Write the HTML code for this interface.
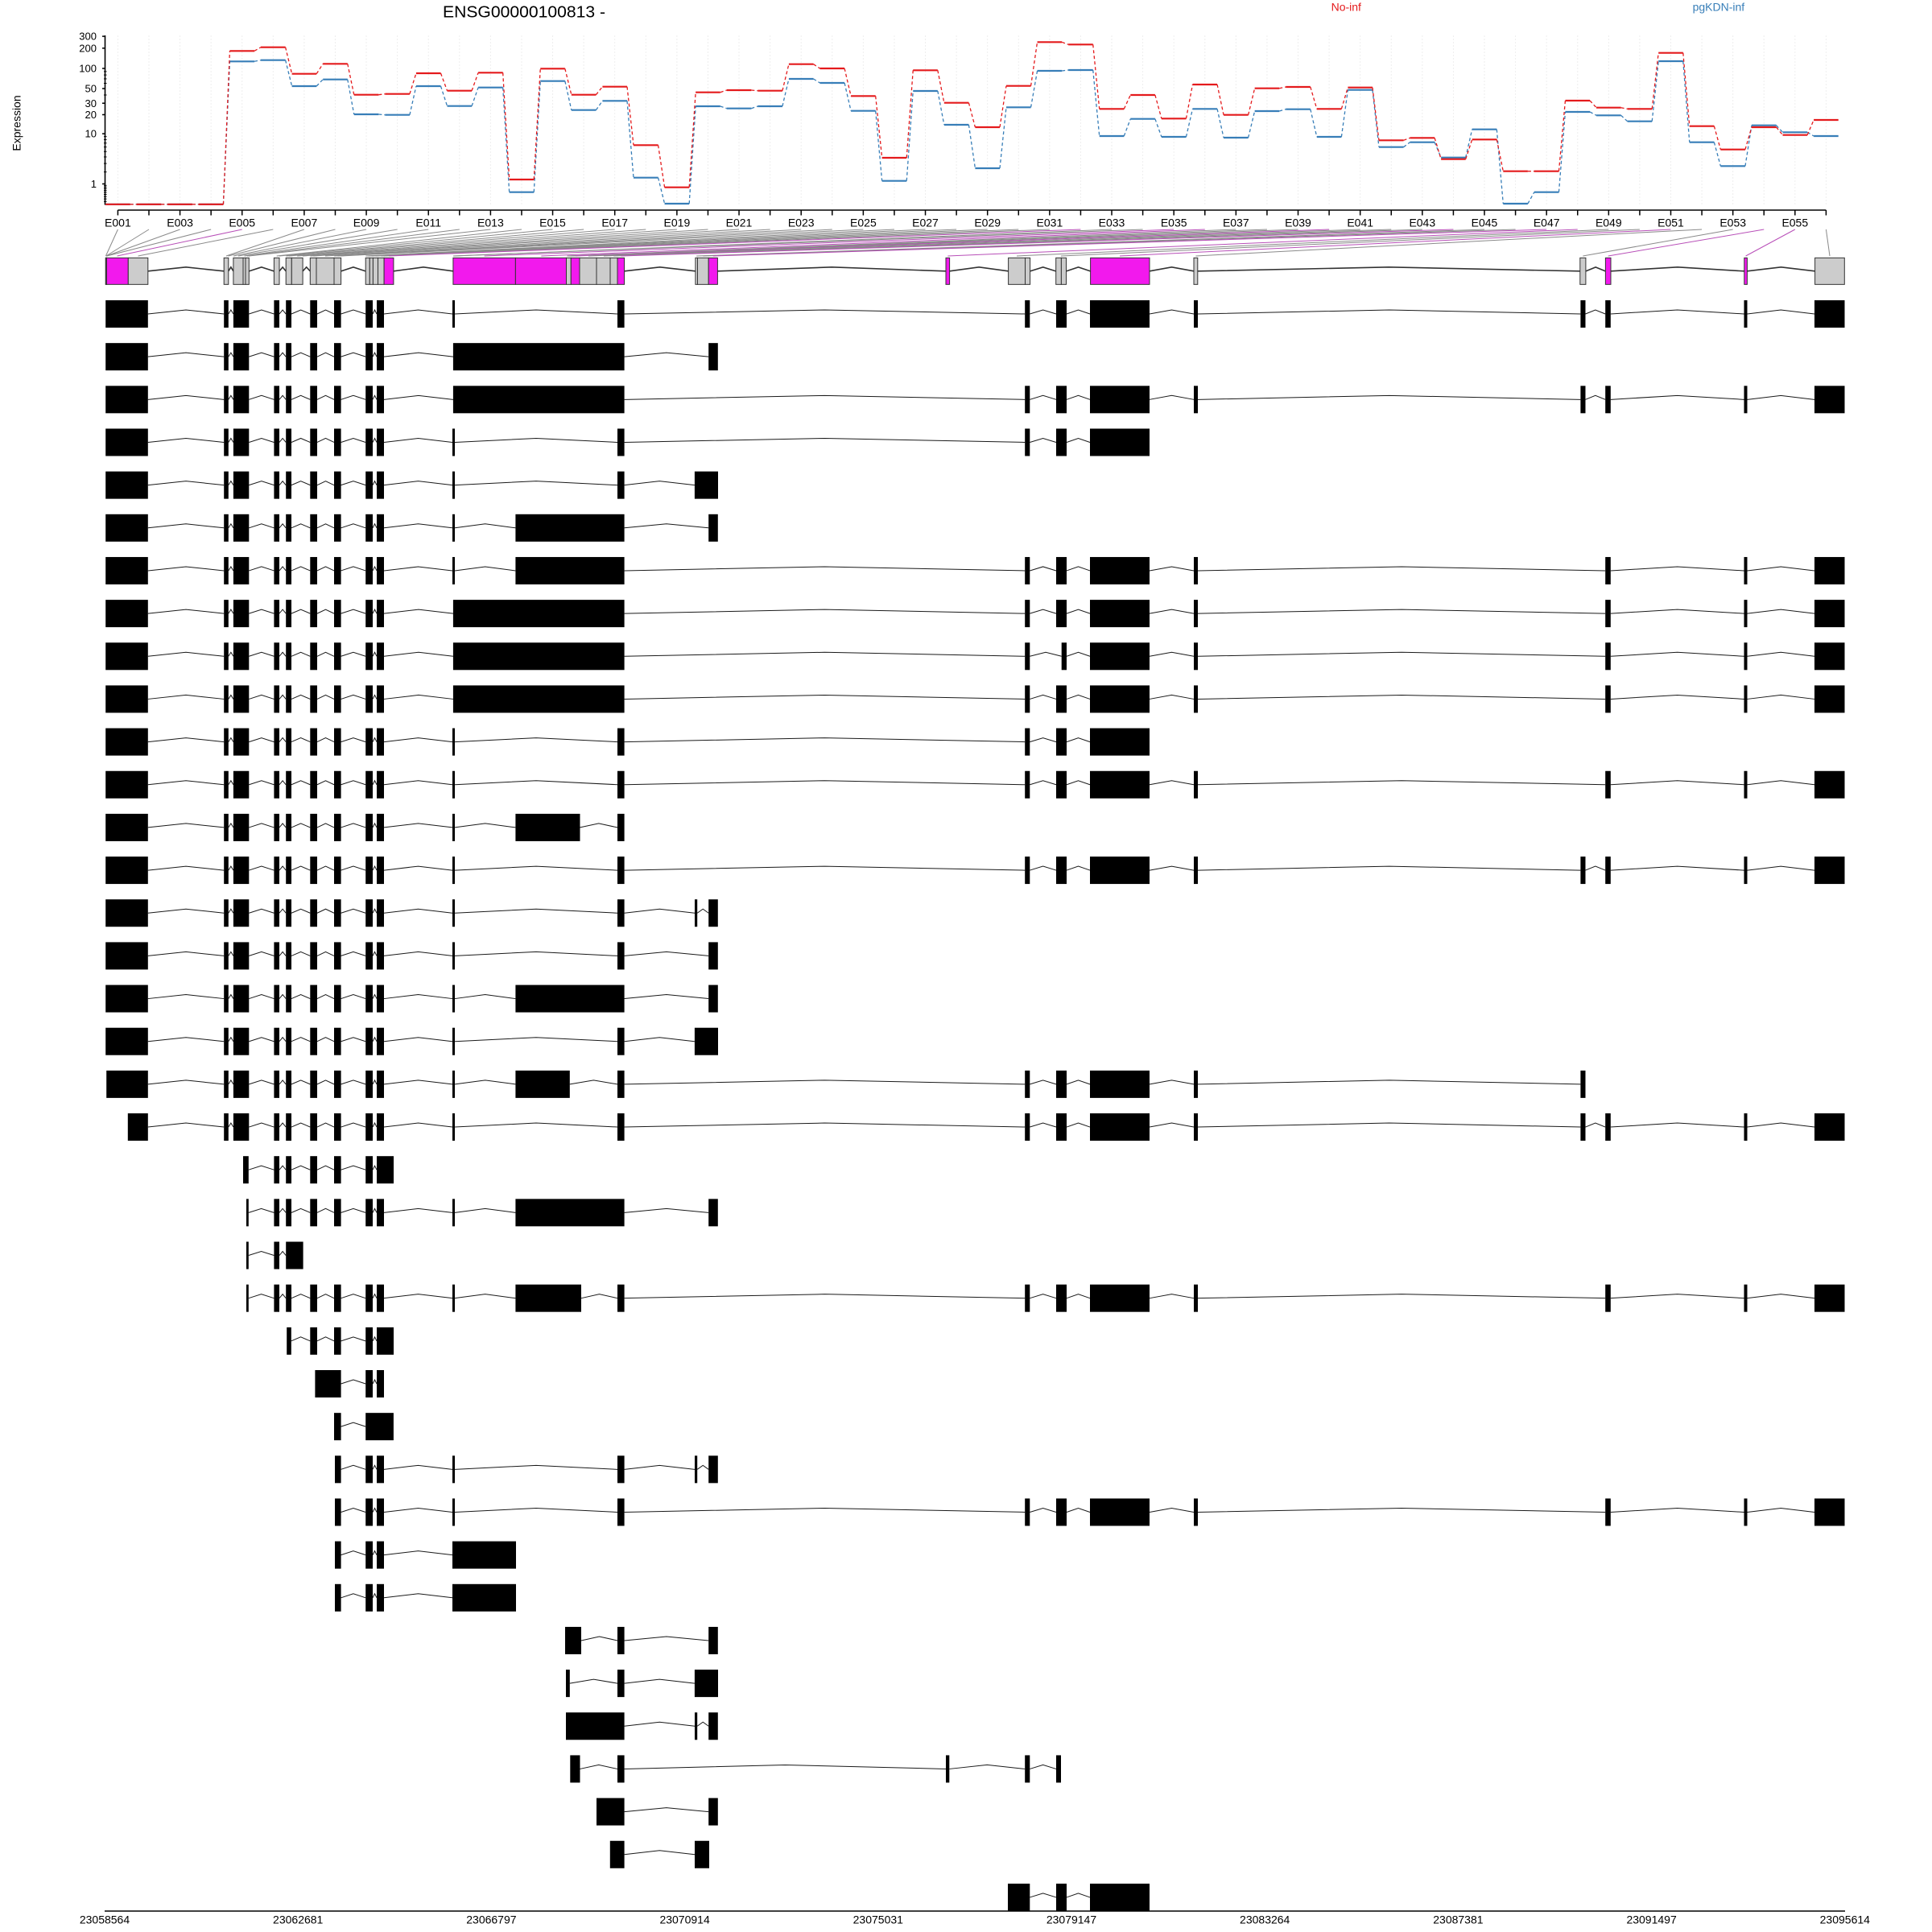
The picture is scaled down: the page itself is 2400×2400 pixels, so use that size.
<!DOCTYPE html>
<html><head><meta charset="utf-8">
<style>
html,body{margin:0;padding:0;background:#fff;}
svg{display:block;}
text{font-family:"Liberation Sans",Arial,sans-serif;fill:#000;}
</style></head>
<body>
<svg id="s" width="2400" height="2400" viewBox="0 0 2400 2400" xmlns="http://www.w3.org/2000/svg">
<rect width="2400" height="2400" fill="#fff"/>
<g id="shapes"></g>
<g id="labels">
<text x="550" y="21.7" font-size="20" textLength="202" lengthAdjust="spacingAndGlyphs">ENSG00000100813 -</text>
<text x="1653.6" y="13.4" font-size="14" style="fill:#E41A1C">No-inf</text>
<text x="2102.6" y="13.4" font-size="14" style="fill:#377EB8">pgKDN-inf</text>
<text transform="translate(25.3,153) rotate(-90)" text-anchor="middle" font-size="14">Expression</text>
<g font-size="13" text-anchor="end">
<text x="120" y="49.7">300</text>
<text x="120" y="64.5">200</text>
<text x="120" y="89.6">100</text>
<text x="120" y="114.6">50</text>
<text x="120" y="132.8">30</text>
<text x="120" y="147.1">20</text>
<text x="120" y="170.7">10</text>
<text x="120" y="233.1">1</text>
</g>
<g font-size="14" text-anchor="middle">
<text x="146.4" y="281.7">E001</text>
<text x="223.6" y="281.7">E003</text>
<text x="300.7" y="281.7">E005</text>
<text x="377.9" y="281.7">E007</text>
<text x="455.1" y="281.7">E009</text>
<text x="532.2" y="281.7">E011</text>
<text x="609.4" y="281.7">E013</text>
<text x="686.5" y="281.7">E015</text>
<text x="763.7" y="281.7">E017</text>
<text x="840.9" y="281.7">E019</text>
<text x="918.0" y="281.7">E021</text>
<text x="995.2" y="281.7">E023</text>
<text x="1072.4" y="281.7">E025</text>
<text x="1149.5" y="281.7">E027</text>
<text x="1226.7" y="281.7">E029</text>
<text x="1303.9" y="281.7">E031</text>
<text x="1381.0" y="281.7">E033</text>
<text x="1458.2" y="281.7">E035</text>
<text x="1535.3" y="281.7">E037</text>
<text x="1612.5" y="281.7">E039</text>
<text x="1689.7" y="281.7">E041</text>
<text x="1766.8" y="281.7">E043</text>
<text x="1844.0" y="281.7">E045</text>
<text x="1921.2" y="281.7">E047</text>
<text x="1998.3" y="281.7">E049</text>
<text x="2075.5" y="281.7">E051</text>
<text x="2152.7" y="281.7">E053</text>
<text x="2229.8" y="281.7">E055</text>
</g>
<g font-size="14" text-anchor="middle">
<text x="130" y="2389.5">23058564</text>
<text x="370.2" y="2389.5">23062681</text>
<text x="610.4" y="2389.5">23066797</text>
<text x="850.6" y="2389.5">23070914</text>
<text x="1090.8" y="2389.5">23075031</text>
<text x="1331" y="2389.5">23079147</text>
<text x="1571.2" y="2389.5">23083264</text>
<text x="1811.4" y="2389.5">23087381</text>
<text x="2051.6" y="2389.5">23091497</text>
<text x="2291.8" y="2389.5">23095614</text>
</g>
</g>
</svg>
<script>
(function(){
var NS="http://www.w3.org/2000/svg";
var root=document.getElementById('shapes');
function el(tag,a,p){var e=document.createElementNS(NS,tag);for(var k in a)e.setAttribute(k,a[k]);(p||root).appendChild(e);return e;}
function line(x1,y1,x2,y2,col,w,dash){var a={x1:x1,y1:y1,x2:x2,y2:y2,stroke:col,'stroke-width':w};if(dash)a['stroke-dasharray']=dash;return el('line',a);}
var N=56,X0=146.4,DX=38.582,HW=15.3;
var xs=[];for(var i=0;i<N;i++)xs.push(X0+i*DX);
function yv(v){return 253.8-84.2*Math.log10(v+1);}
// grid
for(i=0;i<N;i++)line(xs[i],44,xs[i],254,'#eeeeee',1,'2 2');
// y axis
line(130.5,44,130.5,254.5,'#000',1.6);
[300,200,100,50,30,20,10,1].forEach(function(v){var y=yv(v);line(127,y,130.5,y,'#000',1.5);});
[0.1,0.2,0.3,0.4,0.5,0.6,0.7,0.8,0.9,2,3,4,5,6,7,8,9,40,60,70,80,90].forEach(function(v){var y=yv(v);line(129,y,132.5,y,'#000',1);});
// exon axis
line(146.4,261,2268.4,261,'#000',1.6);
for(i=0;i<N;i++)line(xs[i],261,xs[i],267.5,'#000',1.5);
// series
var red=[253.8,253.8,253.8,253.8,63.3,58.7,91.7,79.3,117.7,116.7,91,112.7,90.3,223,85.3,117.7,107.7,180.3,232.7,114.7,112,112.7,79.7,85,119.3,196,87.3,127.7,158,106.7,52.3,55.3,135.3,118,147.3,105,142.7,109.7,108,135.3,108.7,174.3,171.3,197.7,173.3,212.7,212.7,125,133.7,135.3,65.7,156.7,185.7,158,167.7,149];
var blue=[253.8,253.8,253.8,253.8,76.3,74.7,107,98.7,142,142.7,107,131.7,108.7,238.7,100.7,136.7,125.3,220.7,253,132,134.7,132,98,103,137.7,224.7,113,155,209,133.3,88,87,169,147.7,170,135.3,171,138,135.7,170,111.7,182.7,176.7,195.7,160.7,253,238.7,139,143.3,150.7,76,176.7,206.3,155.7,164.3,169];
function series(ys,col){
 for(var i=0;i<N;i++){
  line(xs[i]-HW,ys[i],xs[i]+HW,ys[i],col,2.2);
  if(i<N-1)line(xs[i]+HW,ys[i],xs[i+1]-HW,ys[i+1],col,1.3,'4 3');
 }
}
series(blue,'#377EB8');
series(red,'#E41A1C');
// fan lines
var g='g',m='m';
var T=[[131.4,g],[131.8,g],[132.2,g],[132.6,g],[145.5,m],[171.5,g],[281,g],[283.5,g],[290.2,g],[296,g],[303.5,g],[307,g],[309,g],[343.7,g],[347,g],[355.5,g],[358.7,g],[369.2,g],[376,g],[385.5,g],[389.2,g],[404,g],[415.3,g],[419.3,g],[423.4,g],[454.4,g],[456.8,g],[461.3,g],[466.5,g],[473.3,g],[477,g],[483,m],[563,g],[563.5,g],[601.6,m],[672.3,m],[704.5,g],[706.7,g],[709,g],[714.9,m],[730.9,g],[750,g],[762.3,g],[771.3,m],[865.2,g],[873.3,g],[885.8,m],[1177.3,m],[1263,g],[1318,g],[1391,m],[1485.4,g],[1966.3,g],[1997.7,m],[2168.6,m],[2273,g]];
for(i=0;i<N;i++){line(xs[i],285,T[i][0],318,T[i][1]==m?'#b84fb8':'#8a8a8a',1);}
// overview
var MC='#F219ED',GC='#CCCCCC';
var ov=[[131.2,131.6,g],[131.6,132,g],[132,132.4,g],[132.4,159.3,m],[159.3,183.8,g],
[278.2,283.8,g],[289.9,302,g],[302,305,g],[305,309.3,g],[340.4,347,g],
[355.2,362.3,g],[362.3,376.1,g],[385.3,393,g],[393,415,g],[415,423.6,g],
[454.2,459.3,g],[459.3,463.4,g],[463.4,469.5,g],[469.5,477.1,g],[477.1,488.9,m],
[562.9,640.4,m],[640.4,703.5,m],[703.5,709.3,g],[709.3,720,m],[720,741,g],[741,758,g],[758,767,g],[767,775.6,m],
[863.9,866.5,g],[866.5,880.2,g],[880.2,891.4,m],[1175,1179.6,m],
[1252.6,1273.5,g],[1273.5,1279.6,g],[1311.7,1318.4,g],[1318.4,1324.5,g],
[1354.6,1428,m],[1483,1487.8,g],[1962.8,1969.9,g],[1994.4,2001,m],[2166.8,2170.4,m],[2254.6,2291.3,g]];
var OCY=336.84;
var ub=[];ov.forEach(function(b){if(ub.length&&b[0]-ub[ub.length-1][1]<0.5)ub[ub.length-1][1]=Math.max(ub[ub.length-1][1],b[1]);else ub.push([b[0],b[1]]);});
function introns(bl,cy,col,w){for(var i=0;i<bl.length-1;i++){var a=bl[i][1],b=bl[i+1][0];if(b-a<0.5)continue;el('polyline',{points:a+','+cy+' '+((a+b)/2)+','+(cy-5)+' '+b+','+cy,fill:'none',stroke:col,'stroke-width':w});}}
introns(ub,OCY,'#333',1.6);
ov.forEach(function(b){el('rect',{x:b[0],y:OCY-16.5,width:Math.max(b[1]-b[0],0.6),height:33,fill:b[2]==m?MC:GC,stroke:'#333','stroke-width':1});});
// transcripts
var A=[131.2,183.8],A1=[132.2,183.8],A2=[158.8,183.8],B=[278.2,283.8],C=[289.9,309.3],D=[340.4,347],E=[355.2,362],F=[385.3,394],G=[415,423.6],G1=[416,423.6],H=[454.2,463],I=[468,477],J=[562,565],K=[562.9,775.6],L=[640.4,775.6],M=[767,775.6],Nn=[640.4,720.5],N1=[640.4,722],O=[640.4,707.8],P=[862.9,892],Q=[880.2,891.8],R=[863,866.2],R1=[1273.2,1279.3],R2=[1312,1325],R2b=[1318.7,1325],R3=[1354,1428],R4=[1483,1488],R5=[1963.4,1969.5],R6=[1994.2,2000.8],R7=[2166.5,2170.5],R8=[2254,2291.5];
var X21a=[302,308.8],X21b=[468,489],X22a=[306,308.8],X23=[355.2,376.6],X25a=[356.2,361.8],X26=[391.4,423.6],X27=[454.2,488.9],X30=[562,641],X32=[702,722],X33=[703,707.8],X34=[703,775.6],X35a=[708.3,720.5],X35b=[1175,1179.3],X35c=[1312,1318],X36=[741,775.6],X37a=[757.8,775.6],X37b=[863,881],X38=[1252,1279.3];
var base=[A,B,C,D,E,F,G,H,I],bNoA=[B,C,D,E,F,G,H,I];
var RA=[R1,R2,R3,R4,R5,R6,R7,R8],RB=[R1,R2,R3,R4,R6,R7,R8];
var rows=[
base.concat([J,M],RA),
base.concat([K,Q]),
base.concat([K],RA),
base.concat([J,M,R1,R2,R3]),
base.concat([J,M,P]),
base.concat([J,L,Q]),
base.concat([J,L],RB),
base.concat([K],RB),
base.concat([K,R1,R2b,R3,R4,R6,R7,R8]),
base.concat([K],RB),
base.concat([J,M,R1,R2,R3]),
base.concat([J,M],RB),
base.concat([J,Nn,M]),
base.concat([J,M],RA),
base.concat([J,M,R,Q]),
base.concat([J,M,Q]),
base.concat([J,L,Q]),
base.concat([J,M,P]),
[A1].concat(bNoA,[J,O,M,R1,R2,R3,R4,R5]),
[A2].concat(bNoA,[J,M],RA),
[X21a,D,E,F,G,H,X21b],
[X22a,D,E,F,G,H,I,J,L,Q],
[X22a,D,X23],
[X22a,D,E,F,G,H,I,J,N1,M].concat(RB),
[X25a,F,G,H,X21b],
[X26,H,I],
[G,X27],
[G1,H,I,J,M,R,Q],
[G1,H,I,J,M].concat(RB),
[G1,H,I,X30],
[G1,H,I,X30],
[X32,M,Q],
[X33,M,P],
[X34,R,Q],
[X35a,M,X35b,R1,X35c],
[X36,Q],
[X37a,X37b],
[X38,R2,R3]
];
var RS=53.16;
rows.forEach(function(r,k){
 var cy=390+k*RS;
 introns(r,cy,'#1a1a1a',1);
 r.forEach(function(b){el('rect',{x:b[0],y:cy-17,width:b[1]-b[0],height:34,fill:'#000'});});
});
// bottom axis
line(130,2374,2292,2374,'#000',1.6);
})();
</script>
</body></html>
